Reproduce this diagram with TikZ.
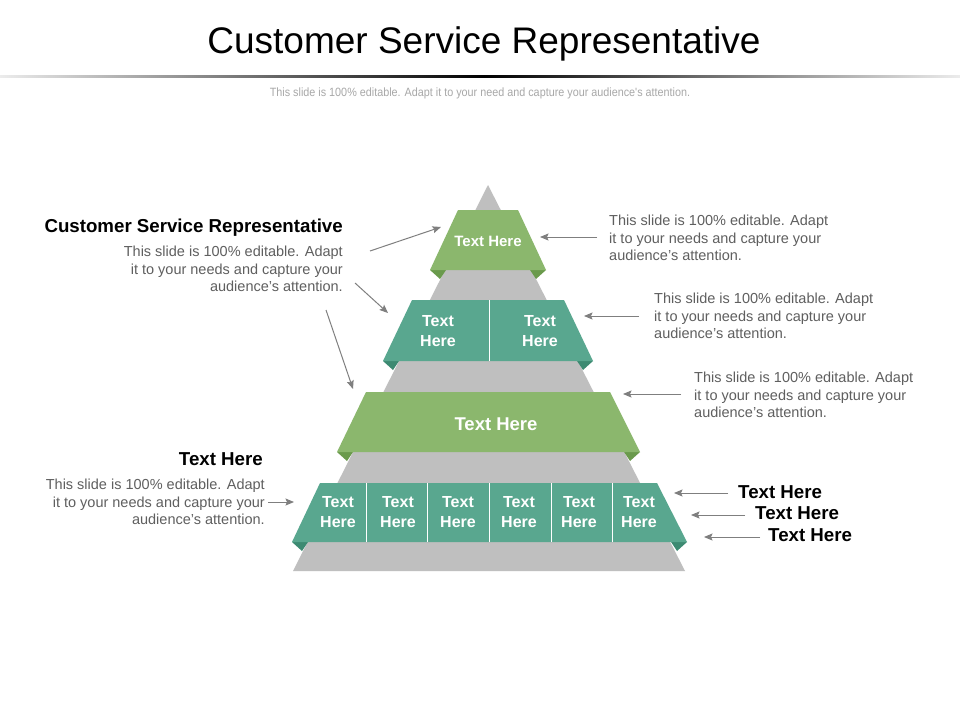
\documentclass[tikz,border=0pt]{standalone}
\usepackage{fontspec}
\setmainfont{Liberation Sans}
\newfontfamily\narrowfont[FakeStretch=0.9]{Liberation Sans}
\usetikzlibrary{arrows.meta}
\definecolor{lgreen}{HTML}{8BB76D}
\definecolor{dgreen}{HTML}{6A9A4C}
\definecolor{lteal}{HTML}{59A78F}
\definecolor{dteal}{HTML}{3D8A72}
\definecolor{pgray}{HTML}{BFBFBF}
\definecolor{bodygray}{HTML}{5F5F5F}
\definecolor{subgray}{HTML}{A8A8A8}
\definecolor{arrgray}{HTML}{7F7F7F}
\tikzset{
  body/.style={font=\fontsize{14.5}{17.5}\selectfont, text=bodygray, inner sep=0pt},
  head/.style={font=\bfseries\fontsize{18.7}{21}\selectfont, text=black, inner sep=0pt},
  bandtxt/.style={font=\bfseries\fontsize{16}{20}\selectfont, text=white, inner sep=0pt, align=center},
  arr/.style={draw=arrgray, line width=1pt, -{Stealth[length=8.5pt,width=7pt,inset=1.5pt]}},
  divider/.style={draw=white, line width=1pt},
}
\begin{document}
\begin{tikzpicture}[x=1pt,y=-1pt]
\useasboundingbox (0,0) rectangle (960,720);
\fill[white] (0,0) rectangle (960,720);
% title
\node[font=\fontsize{37}{40}\selectfont, inner sep=0pt, anchor=base] (title) at (484,53) {Customer Service Representative};
\shade[left color=gray!15, right color=black] (0,75) rectangle (484,77.5);
\shade[left color=black, right color=gray!15] (484,75) rectangle (960,77.5);
\node[font=\narrowfont\fontsize{12}{13}\selectfont, text=subgray, inner sep=0pt, anchor=base] (subtitle) at (480,96) {This slide is 100\% editable. Adapt it to your need and capture your audience's attention.};
% pyramid
\fill[pgray] (488,185) -- (685,571) -- (293,571) -- cycle;
% folds
\foreach \cx/\yb/\c in {430/270/dgreen, 383/361/dteal, 337/452/dgreen, 292/542/dteal}{
  \fill[\c] (\cx,\yb) -- (\cx+10,\yb+9) -- (\cx+16,\yb) -- cycle;
}
\foreach \cx/\yb/\c in {546/270/dgreen, 593/361/dteal, 640/452/dgreen, 687/542/dteal}{
  \fill[\c] (\cx,\yb) -- (\cx-10,\yb+9) -- (\cx-16,\yb) -- cycle;
}
% bands
\fill[lgreen] (458,210) -- (518,210) -- (546,270) -- (430,270) -- cycle;
\fill[lteal] (412,300) -- (564,300) -- (593,361) -- (383,361) -- cycle;
\fill[lgreen] (366,392) -- (610,392) -- (640,452) -- (337,452) -- cycle;
\fill[lteal] (320,483) -- (657,483) -- (687,542) -- (292,542) -- cycle;
\draw[divider] (489,300) -- (489,361);
\foreach \x in {366,427,489,551,612}{ \draw[divider] (\x,483) -- (\x,542); }
% band texts
\node[bandtxt, font=\bfseries\fontsize{15}{18}\selectfont] (b1) at (488,241) {Text Here};
\node[bandtxt] (b2a) at (438,331) {Text\\Here};
\node[bandtxt] (b2b) at (540,331) {Text\\Here};
\node[bandtxt, font=\bfseries\fontsize{18.5}{22}\selectfont] (b3) at (496,424) {Text Here};
\node[bandtxt] (b4a) at (338,512) {Text\\Here};
\node[bandtxt] (b4b) at (398,512) {Text\\Here};
\node[bandtxt] (b4c) at (458,512) {Text\\Here};
\node[bandtxt] (b4d) at (519,512) {Text\\Here};
\node[bandtxt] (b4e) at (579,512) {Text\\Here};
\node[bandtxt] (b4f) at (639,512) {Text\\Here};
% left text
\node[head, anchor=base east] (lh) at (343,232) {Customer Service Representative};
\node[body, align=right, anchor=north east] (lb) at (343,246) {This slide is 100\% editable. Adapt\\it to your needs and capture your\\audience’s attention.};
\node[head, anchor=base east] (blh) at (263,465.5) {Text Here};
\node[body, align=right, anchor=north east] (blb) at (265,479) {This slide is 100\% editable. Adapt\\it to your needs and capture your\\audience’s attention.};
% right text
\node[body, align=left, anchor=north west] (r1) at (609,215) {This slide is 100\% editable. Adapt\\it to your needs and capture your\\audience’s attention.};
\node[body, align=left, anchor=north west] (r2) at (654,293) {This slide is 100\% editable. Adapt\\it to your needs and capture your\\audience’s attention.};
\node[body, align=left, anchor=north west] (r3) at (694,372) {This slide is 100\% editable. Adapt\\it to your needs and capture your\\audience’s attention.};
\node[head, anchor=base west] (rh1) at (738,498.5) {Text Here};
\node[head, anchor=base west] (rh2) at (755,519.5) {Text Here};
\node[head, anchor=base west] (rh3) at (768,541.5) {Text Here};
% arrow end points
\coordinate (a1s) at (370,251); \coordinate (a1e) at (441,227);
\coordinate (a2s) at (355,283); \coordinate (a2e) at (388,313);
\coordinate (a3s) at (326,310); \coordinate (a3e) at (353,389);
\coordinate (a4s) at (597,237); \coordinate (a4e) at (540,237);
\coordinate (a5s) at (639,316); \coordinate (a5e) at (584,316);
\coordinate (a6s) at (681,394); \coordinate (a6e) at (623,394);
\coordinate (a7s) at (268,502); \coordinate (a7e) at (294,502);
\coordinate (a8s) at (728,493); \coordinate (a8e) at (674,493);
\coordinate (a9s) at (745,515); \coordinate (a9e) at (691,515);
\coordinate (a10s) at (760,537); \coordinate (a10e) at (704,537);
\foreach \i in {1,...,10}{ \draw[arr] (a\i s) -- (a\i e); }
\end{tikzpicture}
\end{document}
